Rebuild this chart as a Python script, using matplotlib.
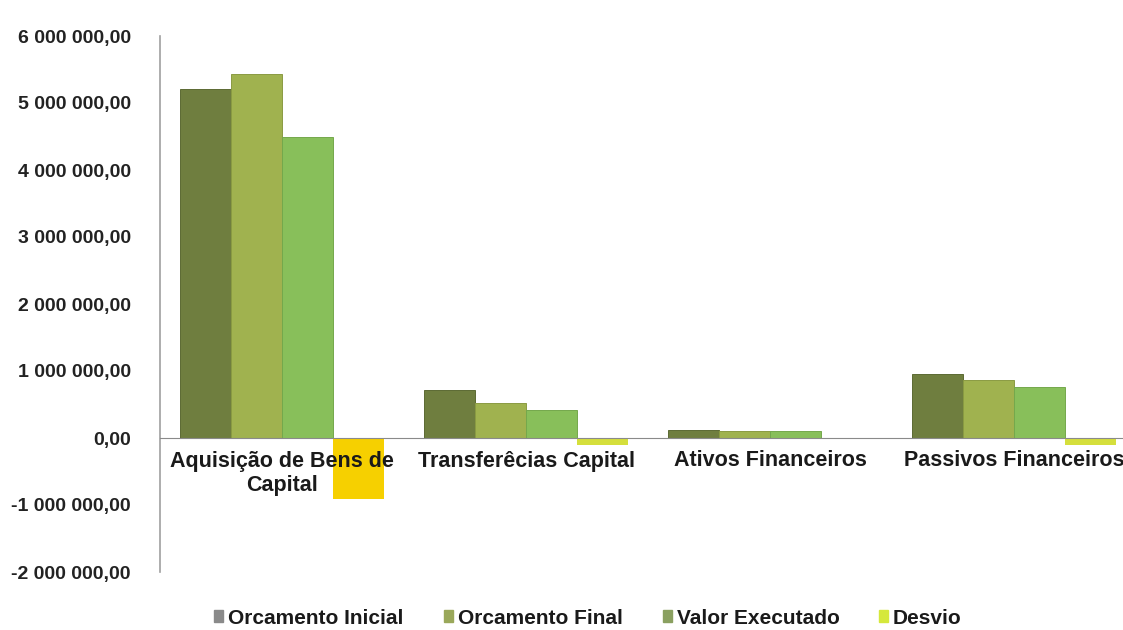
import numpy as np
import matplotlib.pyplot as plt
from matplotlib.ticker import FuncFormatter
from matplotlib.patches import Patch

plt.rcParams['font.family'] = ['Liberation Sans', 'DejaVu Sans']
plt.rcParams['font.weight'] = 'bold'

# Despesas de capital por rubrica
categorias = ['Aquisição de Bens de\nCapital', 'Transferêcias Capital',
              'Ativos Financeiros', 'Passivos Financeiros']
orcamento_inicial = [5210000, 710000, 120000, 950000]
orcamento_final = [5430000, 520000, 110000, 860000]
valor_executado = [4490000, 420000, 100000, 760000]
desvio = [-910000, -100000, -10000, -100000]

series = ['Orcamento Inicial', 'Orcamento Final', 'Valor Executado', 'Desvio']
cores = ['#6f7e3f', '#a0b24f', '#88bf5a', '#d5df3c']
bordas = ['#5c6a33', '#8a9b42', '#74a84c', '#c8d030']
cor_desvio = ['#f6d000', '#d5df3c', '#d5df3c', '#d5df3c']
cores_legenda = ['#8a8a8a', '#9aa85a', '#8aa060', '#d5e83c']

fig = plt.figure(figsize=(11.23, 6.30), dpi=100)
ax = fig.add_axes([160 / 1123, 1 - 572 / 630, 976 / 1123, 536 / 630])

x = np.arange(len(categorias))
w = 0.21
valores = [orcamento_inicial, orcamento_final, valor_executado, desvio]
for i, (nome, vals) in enumerate(zip(series, valores)):
    cor = cor_desvio if nome == 'Desvio' else cores[i]
    ax.bar(x + (i - 1.5) * w, vals, width=w, color=cor, label=nome,
           edgecolor=bordas[i] if nome != 'Desvio' else 'none',
           linewidth=0.7, zorder=1)

ax.set_xlim(-0.5, len(categorias) - 0.5)
ax.set_ylim(-2000000, 6000000)
ax.set_yticks(np.arange(-2000000, 6000001, 1000000))


def fmt(v, pos):
    s = f'{abs(v):,.2f}'.replace(',', ' ').replace('.', ',')
    return ('-' if v < 0 else '') + s


ax.yaxis.set_major_formatter(FuncFormatter(fmt))
ax.tick_params(axis='y', length=0, pad=21, labelsize=14, labelcolor='#222222')

ax.set_xticks(x)
ax.set_xticklabels(categorias)
ax.tick_params(axis='x', length=0, pad=9, labelsize=15.5, labelcolor='#1a1a1a')
for lab in ax.get_xticklabels():
    lab.set_linespacing(1.05)

ax.spines['bottom'].set_position(('data', 0))
ax.spines['bottom'].set_color('#8a8a8a')
ax.spines['left'].set_color('#a0a0a0')
ax.spines['left'].set_linewidth(1.2)
ax.spines['top'].set_visible(False)
ax.spines['right'].set_visible(False)

# legenda: cada entrada posicionada separadamente
pos_legenda = [214, 444, 663, 879]
for nome, cor, px in zip(series, cores_legenda, pos_legenda):
    fig.legend([Patch(color=cor)], [nome], loc='center left',
               bbox_to_anchor=(px / 1123, 1 - 618 / 630), frameon=False,
               fontsize=15, handlelength=0.45, handleheight=0.45,
               handletextpad=0.2, borderpad=0, borderaxespad=0,
               labelcolor='#1a1a1a')

fig.savefig('out.png', dpi=100)
